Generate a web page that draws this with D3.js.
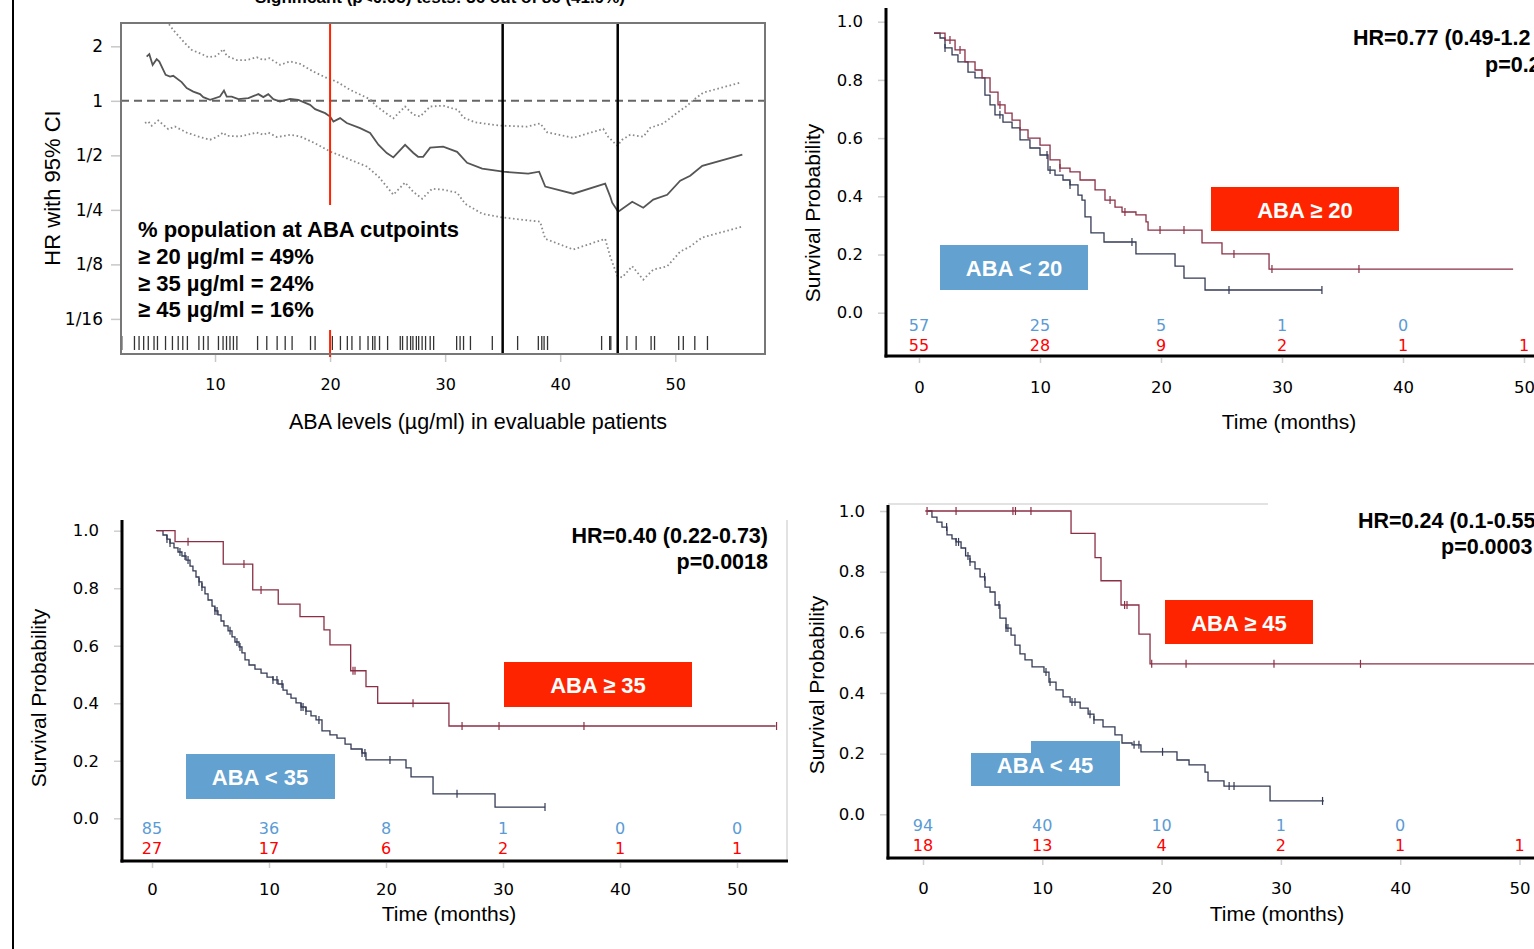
<!DOCTYPE html>
<html>
<head>
<meta charset="utf-8">
<script src="https://cdn.jsdelivr.net/npm/d3@7"></script>
<style>
  body { margin: 0; background: #fff; }
  svg { display: block; font-family: "Liberation Sans", Arial, sans-serif; }
  .num { font-family: "DejaVu Sans", sans-serif; }
</style>
</head>
<body>
<svg id="fig" width="1534" height="949"></svg>
<script>
/* ===========================================================
   Data
   =========================================================== */

// --- HR vs ABA cutpoint panel ---
const headerText = 'Significant (p<0.05) tests: 36 out of 86 (41.9%)';
const abaTicks = [10, 20, 30, 40, 50];
const hrTicks = [2, 1, 1/2, 1/4, 1/8, 1/16];
const hrTickLabels = ['2', '1', '1/2', '1/4', '1/8', '1/16'];
const cutpoints = [20, 35, 45];
const popLines = ['% population at ABA cutpoints', '≥ 20 µg/ml = 49%', '≥ 35 µg/ml = 24%', '≥ 45 µg/ml = 16%'];

const hrEstimate = [
  [4.06,1.754],[4.29,1.809],[4.58,1.579],[4.93,1.698],[5.16,1.647],[5.71,1.391],[6.09,1.361],
  [6.37,1.374],[7.10,1.268],[7.54,1.175],[8.11,1.125],[8.70,1.089],[8.98,1.048],[9.57,1.013],
  [10.43,1.056],[10.78,1.140],[11.02,1.056],[11.45,1.056],[12.03,1.022],[12.90,1.035],[13.77,1.089],
  [14.20,1.048],[14.63,1.089],[15.07,1.022],[15.65,0.991],[16.52,1.026],[17.24,1.013],[18.26,0.950],
  [18.70,0.900],[19.57,0.855],[20.0,0.819],[20.29,0.769],[20.87,0.803],[21.45,0.754],[22.61,0.707],
  [23.48,0.664],[24.2,0.572],[24.93,0.515],[25.5,0.487],[26.52,0.572],[27.22,0.517],[27.65,0.491],
  [28.09,0.491],[28.7,0.551],[29.83,0.558],[31.04,0.523],[31.91,0.455],[33.22,0.422],[35.04,0.406],
  [37.22,0.396],[38.17,0.406],[38.7,0.336],[41.13,0.307],[43.91,0.349],[44.35,0.296],[44.52,0.274],
  [45.04,0.244],[46.26,0.277],[47.22,0.257],[48.09,0.285],[49.3,0.303],[50.43,0.362],[51.3,0.386],
  [52.35,0.438],[55.83,0.504]
];
const hrUpper = [
  [5.22,3.17],[5.94,2.68],[6.37,2.46],[7.39,2.08],[7.97,1.91],[8.70,1.83],[9.42,1.74],[10.15,1.77],
  [10.72,1.93],[11.02,1.77],[11.89,1.68],[12.76,1.68],[13.63,1.74],[14.2,1.68],[14.72,1.72],
  [15.65,1.58],[16.52,1.65],[17.39,1.60],[18.55,1.45],[19.57,1.35],[20.15,1.31],[20.72,1.26],
  [21.74,1.15],[23.48,1.02],[24.06,0.93],[25.5,0.80],[26.52,0.93],[27.22,0.84],[27.83,0.82],
  [28.7,0.93],[29.83,0.94],[31.13,0.89],[31.57,0.81],[32.61,0.76],[34.78,0.73],[37.13,0.72],
  [38.26,0.75],[38.87,0.67],[41.13,0.625],[43.74,0.70],[44.17,0.633],[44.96,0.565],[45.39,0.61],
  [46.09,0.65],[47.22,0.633],[47.83,0.71],[48.96,0.75],[50.17,0.86],[51.04,0.94],[51.57,1.01],
  [52.43,1.11],[55.65,1.26]
];
const hrLower = [
  [3.91,0.754],[4.2,0.769],[4.5,0.728],[5.07,0.779],[5.94,0.698],[6.52,0.721],[7.54,0.668],
  [8.70,0.631],[9.57,0.610],[10.15,0.631],[10.72,0.668],[11.02,0.641],[12.17,0.636],[13.63,0.668],
  [14.2,0.649],[14.63,0.668],[15.37,0.631],[16.52,0.649],[17.39,0.636],[18.55,0.589],[20.0,0.525],
  [20.72,0.504],[21.74,0.473],[23.19,0.434],[24.2,0.382],[25.5,0.303],[26.52,0.354],[27.22,0.315],
  [28.0,0.288],[28.87,0.327],[29.83,0.323],[31.04,0.311],[31.74,0.270],[33.22,0.238],[34.96,0.227],
  [38.26,0.215],[38.7,0.173],[41.13,0.151],[43.91,0.173],[44.35,0.138],[44.96,0.108],[45.39,0.106],
  [46.26,0.122],[47.22,0.103],[48.09,0.117],[49.3,0.122],[50.43,0.147],[51.3,0.157],[52.35,0.176],
  [55.83,0.202]
];
const rugAba = [
  1.9,3.0,3.4,3.8,4.2,4.7,5.0,5.7,6.3,6.8,7.2,7.6,8.6,9.0,9.4,10.3,10.7,11.0,11.3,11.6,11.9,
  13.7,14.5,15.4,16.1,16.7,18.3,18.7,20.2,20.9,21.5,21.9,22.6,23.3,23.7,23.9,24.3,25.0,26.1,26.3,
  26.7,27.0,27.2,27.5,27.7,28.0,28.3,28.7,29.0,31.0,31.3,31.6,32.2,34.1,36.3,38.1,38.4,38.6,38.9,
  43.6,44.3,44.4,45.8,46.6,47.9,48.2,50.3,50.7,51.7,52.8
];

// --- Kaplan-Meier panels: [time, survival] (first pair = start of curve) ---
const timeTicks = [0, 10, 20, 30, 40, 50];
const survTicks = [0, 0.2, 0.4, 0.6, 0.8, 1.0];

const km20Lo = [[1.24,0.961],[1.74,0.944],[2.15,0.910],[2.73,0.886],[3.22,0.862],[4.05,0.827],[4.63,0.807],
  [5.45,0.748],[5.87,0.714],[6.28,0.680],[6.94,0.655],[7.69,0.635],[8.35,0.594],[9.17,0.566],[10.0,0.542],
  [10.66,0.490],[11.24,0.473],[11.90,0.456],[12.48,0.439],[13.14,0.404],[13.47,0.387],[13.72,0.329],
  [14.21,0.274],[15.29,0.243],[17.93,0.202],[21.16,0.160],[21.90,0.119],[23.64,0.078]];
const km20LoEnd = 33.3;
const km20LoCens = [2.15, 6.69, 10.58, 10.83, 12.48, 17.6, 25.62, 33.3];
const km20Hi = [[1.24,0.961],[2.15,0.937],[2.98,0.903],[3.80,0.862],[4.63,0.834],[5.21,0.807],[5.87,0.758],
  [6.53,0.714],[7.11,0.686],[7.69,0.662],[8.35,0.628],[9.01,0.600],[10.0,0.576],[10.83,0.525],[11.65,0.497],
  [12.48,0.484],[13.31,0.456],[14.55,0.422],[15.37,0.387],[16.20,0.363],[16.78,0.346],[17.93,0.336],
  [18.76,0.312],[18.93,0.284],[23.39,0.240],[25.04,0.202],[28.93,0.150]];
const km20HiEnd = 49.1;
const km20HiCens = [2.56, 3.39, 6.69, 11.65, 15.79, 17.02, 19.92, 21.90, 26.03, 29.17, 36.36];
const risk20Lo = [57, 25, 5, 1, 0];
const risk20Hi = [55, 28, 9, 2, 1, 1];

const km35Lo = [[0.43,1.0],[0.94,0.985],[1.28,0.971],[1.54,0.957],[1.88,0.940],[2.22,0.926],[2.56,0.912],
  [2.91,0.898],[3.25,0.877],[3.50,0.860],[3.76,0.839],[4.02,0.822],[4.27,0.804],[4.53,0.780],[4.79,0.759],
  [5.13,0.738],[5.38,0.721],[5.64,0.707],[5.90,0.686],[6.15,0.669],[6.50,0.652],[6.84,0.631],[7.09,0.613],
  [7.44,0.596],[7.69,0.575],[7.95,0.551],[8.29,0.533],[8.80,0.519],[9.32,0.505],[9.83,0.491],[10.34,0.481],
  [10.77,0.467],[11.20,0.446],[11.54,0.432],[11.88,0.418],[12.31,0.401],[12.74,0.387],[13.16,0.373],
  [13.59,0.356],[14.02,0.342],[14.53,0.304],[15.21,0.290],[15.81,0.279],[16.50,0.258],[17.01,0.241],
  [17.95,0.227],[18.29,0.203],[21.71,0.175],[22.14,0.144],[24.02,0.085],[29.32,0.039]];
const km35LoEnd = 33.6;
const km35LoCens = [1.28, 1.54, 2.39, 2.82, 3.08, 4.02, 4.27, 5.38, 5.56, 6.67, 7.26, 7.52, 10.34, 10.68,
  11.11, 12.74, 12.91, 13.16, 14.27, 17.95, 18.2, 20.34, 26.07, 33.59];
const km35Hi = [[0.34,1.0],[1.97,0.962],[6.09,0.884],[8.61,0.794],[10.79,0.745],[12.65,0.701],[14.70,0.655],
  [15.21,0.603],[16.98,0.513],[18.29,0.458],[19.29,0.400],[25.38,0.321]];
const km35HiEnd = 53.3;
const km35HiCens = [3.08, 7.86, 9.32, 17.18, 17.35, 22.31, 26.5, 29.66, 36.92, 53.38];
const risk35Lo = [85, 36, 8, 1, 0, 0];
const risk35Hi = [27, 17, 6, 2, 1, 1];

const km45Lo = [[0.39,1.0],[0.75,0.980],[1.17,0.963],[1.59,0.947],[2.01,0.921],[2.43,0.908],[2.77,0.898],
  [3.19,0.878],[3.57,0.852],[3.94,0.832],[4.36,0.809],[4.78,0.783],[5.20,0.749],[5.62,0.733],[6.04,0.690],
  [6.45,0.647],[6.96,0.614],[7.38,0.591],[7.71,0.558],[8.13,0.529],[8.55,0.509],[9.14,0.486],[10.14,0.469],
  [10.56,0.436],[11.15,0.410],[11.74,0.387],[12.33,0.370],[13.17,0.350],[13.84,0.330],[14.33,0.311],
  [15.09,0.288],[16.09,0.262],[16.68,0.235],[17.52,0.229],[18.27,0.206],[21.29,0.179],[22.30,0.163],
  [23.64,0.139],[23.89,0.110],[25.23,0.093],[29.09,0.044]];
const km45LoEnd = 33.6;
const km45LoCens = [1.98, 2.77, 2.98, 3.77, 3.94, 5.16, 6.37, 6.96, 7.12, 10.31, 10.65, 12.49, 12.74, 14.0,
  14.33, 17.69, 18.1, 20.08, 25.66, 26.07, 33.49];
const km45Hi = [[0.19,1.0],[12.41,0.926],[14.42,0.846],[14.92,0.770],[16.60,0.690],[18.10,0.594],[19.03,0.496]];
const km45HiEnd = 52;
const km45HiCens = [0.34, 2.77, 7.54, 7.75, 9.05, 16.9, 17.1, 19.17, 22.05, 29.42, 36.67];
const risk45Lo = [94, 40, 10, 1, 0];
const risk45Hi = [18, 13, 4, 2, 1, 1];

/* ===========================================================
   Drawing
   =========================================================== */

const COL_HI = '#8a2f45';
const COL_LO = '#333a55';
const BOX_RED = '#ff2400';
const BOX_BLUE = '#62a1d0';
const RISK_BLUE = '#5b9bd5';
const RISK_RED = '#ff0000';

const svg = d3.select('#fig');

// page frame line on the left
svg.append('line').attr('x1', 13).attr('x2', 13).attr('y1', 0).attr('y2', 949)
  .attr('stroke', '#000').attr('stroke-width', 2);

function drawHrPanel() {
  const box = { left: 121, right: 765, top: 23, bottom: 354 };
  const x = d3.scaleLinear().domain([1.83, 57.8]).range([box.left, box.right]);
  const y = d3.scaleLog().base(2).domain([2.69, 0.04]).range([box.top, box.bottom]);
  const g = svg.append('g');

  // panel title, cropped by the top edge as in the source figure
  g.append('text')
    .attr('x', 440).attr('y', 3).attr('text-anchor', 'middle')
    .attr('font-weight', 700).attr('font-size', 16)
    .attr('textLength', 370).attr('lengthAdjust', 'spacingAndGlyphs')
    .text(headerText);

  svg.append('defs').append('clipPath').attr('id', 'hrclip')
    .append('rect').attr('x', box.left).attr('y', box.top)
    .attr('width', box.right - box.left).attr('height', box.bottom - box.top);

  // axes
  const ya = g.append('g').attr('transform', `translate(${box.left},0)`)
    .call(d3.axisLeft(y).tickValues(hrTicks).tickFormat((d, i) => hrTickLabels[i]).tickSize(10).tickPadding(8));
  const xa = g.append('g').attr('transform', `translate(0,${box.bottom})`)
    .call(d3.axisBottom(x).tickValues(abaTicks).tickSize(8).tickPadding(17));
  [ya, xa].forEach(a => {
    a.select('.domain').remove();
    a.selectAll('line').attr('stroke', '#c8c8c8').attr('stroke-width', 1.5);
    a.selectAll('text').attr('class', 'num').attr('fill', '#000');
  });
  ya.selectAll('text').attr('font-size', 17);
  xa.selectAll('text').attr('font-size', 16);

  g.append('line')
    .attr('x1', box.left).attr('x2', box.right).attr('y1', y(1)).attr('y2', y(1))
    .attr('stroke', '#666').attr('stroke-width', 2).attr('stroke-dasharray', '8,5');

  const line = d3.line().x(d => x(d[0])).y(d => y(d[1]));
  const cg = g.append('g').attr('clip-path', 'url(#hrclip)');
  [hrUpper, hrLower].forEach(ci => {
    cg.append('path').datum(ci).attr('d', line)
      .attr('fill', 'none').attr('stroke', '#8a8a8a').attr('stroke-width', 1.8)
      .attr('stroke-dasharray', '1.6,2.6');
  });
  cg.append('path').datum(hrEstimate).attr('d', line)
    .attr('fill', 'none').attr('stroke', '#555').attr('stroke-width', 1.8);

  // rug of patient ABA levels
  g.selectAll('.rug').data(rugAba).enter().append('line')
    .attr('x1', d => x(d)).attr('x2', d => x(d))
    .attr('y1', 336).attr('y2', 350)
    .attr('stroke', '#333').attr('stroke-width', 1.3);

  // cutpoint lines
  cutpoints.forEach(c => {
    const segs = c === 20 ? [[box.top, 205], [330, 357]] : [[box.top, box.bottom]];
    segs.forEach(s => {
      g.append('line').attr('x1', x(c)).attr('x2', x(c)).attr('y1', s[0]).attr('y2', s[1])
        .attr('stroke', c === 20 ? '#ff2200' : '#000').attr('stroke-width', c === 20 ? 2 : 2.5);
    });
  });

  g.append('rect')
    .attr('x', box.left).attr('y', box.top)
    .attr('width', box.right - box.left).attr('height', box.bottom - box.top)
    .attr('fill', 'none').attr('stroke', '#777').attr('stroke-width', 2);

  g.selectAll('.pop').data(popLines).enter().append('text')
    .attr('x', 138).attr('y', (d, i) => [237, 264, 291, 317][i])
    .attr('font-size', 22).attr('font-weight', 700)
    .text(d => d);

  g.append('text')
    .attr('x', 478).attr('y', 429).attr('text-anchor', 'middle')
    .attr('font-size', 21.5).text('ABA levels (µg/ml) in evaluable patients');
  g.append('text')
    .attr('transform', 'translate(60,188) rotate(-90)').attr('text-anchor', 'middle')
    .attr('font-size', 22).text('HR with 95% CI');
}

function survAt(curve, t) {
  let s = curve[0][1];
  curve.forEach(d => { if (d[0] <= t) s = d[1]; });
  return s;
}

function stepPath(x, y, curve, tEnd) {
  let d = `M${x(curve[0][0])},${y(curve[0][1])}`;
  for (let i = 1; i < curve.length; i++) d += `H${x(curve[i][0])}V${y(curve[i][1])}`;
  return d + `H${x(tEnd)}`;
}

function drawKM(p) {
  const x = d3.scaleLinear().domain([0, 50]).range(p.xRange);
  const y = d3.scaleLinear().domain([0, 1]).range(p.yRange);
  const g = svg.append('g');

  if (p.frame) p.frame.forEach(f => {
    g.append('line').attr('x1', f[0]).attr('y1', f[1]).attr('x2', f[2]).attr('y2', f[3])
      .attr('stroke', '#e2e2e2').attr('stroke-width', 2);
  });

  const ya = g.append('g').attr('transform', `translate(${p.axisX - 1},0)`)
    .call(d3.axisLeft(y).tickValues(survTicks).tickFormat(d3.format('.1f')).tickSize(7).tickPadding(15));
  const xa = g.append('g').attr('transform', `translate(0,${p.axisY + 2})`)
    .call(d3.axisBottom(x).tickValues(timeTicks).tickSize(5).tickPadding(p.xPad));
  [ya, xa].forEach(a => {
    a.select('.domain').remove();
    a.selectAll('line').attr('stroke', '#cfcfcf').attr('stroke-width', 1.5);
    a.selectAll('text').attr('class', 'num').attr('font-size', 16.5).attr('fill', '#000');
  });

  // axis lines
  g.append('line').attr('x1', p.axisX).attr('x2', p.axisX).attr('y1', p.yTop).attr('y2', p.axisY + 1.5)
    .attr('stroke', '#000').attr('stroke-width', 3);
  g.append('line').attr('x1', p.axisX - 1.5).attr('x2', p.xRight).attr('y1', p.axisY).attr('y2', p.axisY)
    .attr('stroke', '#000').attr('stroke-width', 3);

  // curves + censor ticks
  [[p.lo, p.loEnd, p.loCens, COL_LO], [p.hi, p.hiEnd, p.hiCens, COL_HI]].forEach(([c, end, cens, col]) => {
    g.append('path').attr('d', stepPath(x, y, c, end))
      .attr('fill', 'none').attr('stroke', col).attr('stroke-width', 1.3);
    g.selectAll(null).data(cens).enter().append('line')
      .attr('x1', d => x(d)).attr('x2', d => x(d))
      .attr('y1', d => y(survAt(c, d)) - 4).attr('y2', d => y(survAt(c, d)) + 4)
      .attr('stroke', col).attr('stroke-width', 1.2);
  });

  // numbers at risk
  [[p.riskLo, p.riskY[0], RISK_BLUE], [p.riskHi, p.riskY[1], RISK_RED]].forEach(([r, yy, col]) => {
    g.selectAll(null).data(r).enter().append('text')
      .attr('class', 'num').attr('x', (d, i) => x(timeTicks[i])).attr('y', yy)
      .attr('dy', '0.36em').attr('text-anchor', 'middle')
      .attr('font-size', 16).attr('fill', col).text(d => d);
  });

  // group labels
  p.boxes.forEach(b => {
    b.rects.forEach(r => {
      g.append('rect').attr('x', r[0]).attr('y', r[1]).attr('width', r[2]).attr('height', r[3])
        .attr('fill', b.color);
    });
    g.append('text').attr('x', b.tx).attr('y', b.ty).attr('dy', '0.35em')
      .attr('text-anchor', 'middle').attr('fill', '#fff')
      .attr('font-size', 22).attr('font-weight', 700).text(b.label);
  });

  // HR text
  p.hrText.forEach(t => {
    g.append('text').attr('x', t.x).attr('y', t.y).attr('text-anchor', t.anchor)
      .attr('font-size', 21.5).attr('font-weight', 700).text(t.text);
  });

  g.append('text').attr('x', p.xTitle[0]).attr('y', p.xTitle[1]).attr('text-anchor', 'middle')
    .attr('font-size', 21).text('Time (months)');
  g.append('text').attr('transform', `translate(${p.yTitle[0]},${p.yTitle[1]}) rotate(-90)`)
    .attr('text-anchor', 'middle').attr('font-size', 21).text('Survival Probability');
}

drawHrPanel();

drawKM({
  xRange: [919, 1524], yRange: [312.7, 21.7], axisX: 886, axisY: 356, yTop: 8, xRight: 1534, xPad: 18,
  lo: km20Lo, loEnd: km20LoEnd, loCens: km20LoCens, hi: km20Hi, hiEnd: km20HiEnd, hiCens: km20HiCens,
  riskLo: risk20Lo, riskHi: risk20Hi, riskY: [325, 345],
  boxes: [
    { label: 'ABA ≥ 20', color: BOX_RED, rects: [[1211, 187, 188, 44]], tx: 1305, ty: 210 },
    { label: 'ABA < 20', color: BOX_BLUE, rects: [[940, 245, 148, 45]], tx: 1014, ty: 268 }
  ],
  hrText: [
    { text: 'HR=0.77 (0.49-1.2', x: 1353, y: 45, anchor: 'start' },
    { text: 'p=0.2', x: 1485, y: 72, anchor: 'start' }
  ],
  xTitle: [1289, 429], yTitle: [820, 213]
});

drawKM({
  xRange: [152, 737], yRange: [818.3, 530.7], axisX: 122, axisY: 861, yTop: 520, xRight: 788, xPad: 15,
  frame: [[787, 520, 787, 862]],
  lo: km35Lo, loEnd: km35LoEnd, loCens: km35LoCens, hi: km35Hi, hiEnd: km35HiEnd, hiCens: km35HiCens,
  riskLo: risk35Lo, riskHi: risk35Hi, riskY: [828, 848],
  boxes: [
    { label: 'ABA ≥ 35', color: BOX_RED, rects: [[504, 662, 188, 45]], tx: 598, ty: 685 },
    { label: 'ABA < 35', color: BOX_BLUE, rects: [[186, 754, 149, 45]], tx: 260, ty: 777 }
  ],
  hrText: [
    { text: 'HR=0.40 (0.22-0.73)', x: 768, y: 543, anchor: 'end' },
    { text: 'p=0.0018', x: 768, y: 569, anchor: 'end' }
  ],
  xTitle: [449, 921], yTitle: [46, 698]
});

drawKM({
  xRange: [923, 1519.5], yRange: [814.3, 511], axisX: 888, axisY: 858, yTop: 505, xRight: 1534, xPad: 17,
  frame: [[888, 504, 1268, 504]],
  lo: km45Lo, loEnd: km45LoEnd, loCens: km45LoCens, hi: km45Hi, hiEnd: km45HiEnd, hiCens: km45HiCens,
  riskLo: risk45Lo, riskHi: risk45Hi, riskY: [825, 845],
  boxes: [
    { label: 'ABA ≥ 45', color: BOX_RED, rects: [[1165, 600, 148, 44]], tx: 1239, ty: 623 },
    { label: 'ABA < 45', color: BOX_BLUE, rects: [[971, 753, 149, 33], [1031, 741, 89, 45]], tx: 1045, ty: 765 }
  ],
  hrText: [
    { text: 'HR=0.24 (0.1-0.55', x: 1358, y: 528, anchor: 'start' },
    { text: 'p=0.0003', x: 1441, y: 554, anchor: 'start' }
  ],
  xTitle: [1277, 921], yTitle: [824, 685]
});
</script>
</body>
</html>
